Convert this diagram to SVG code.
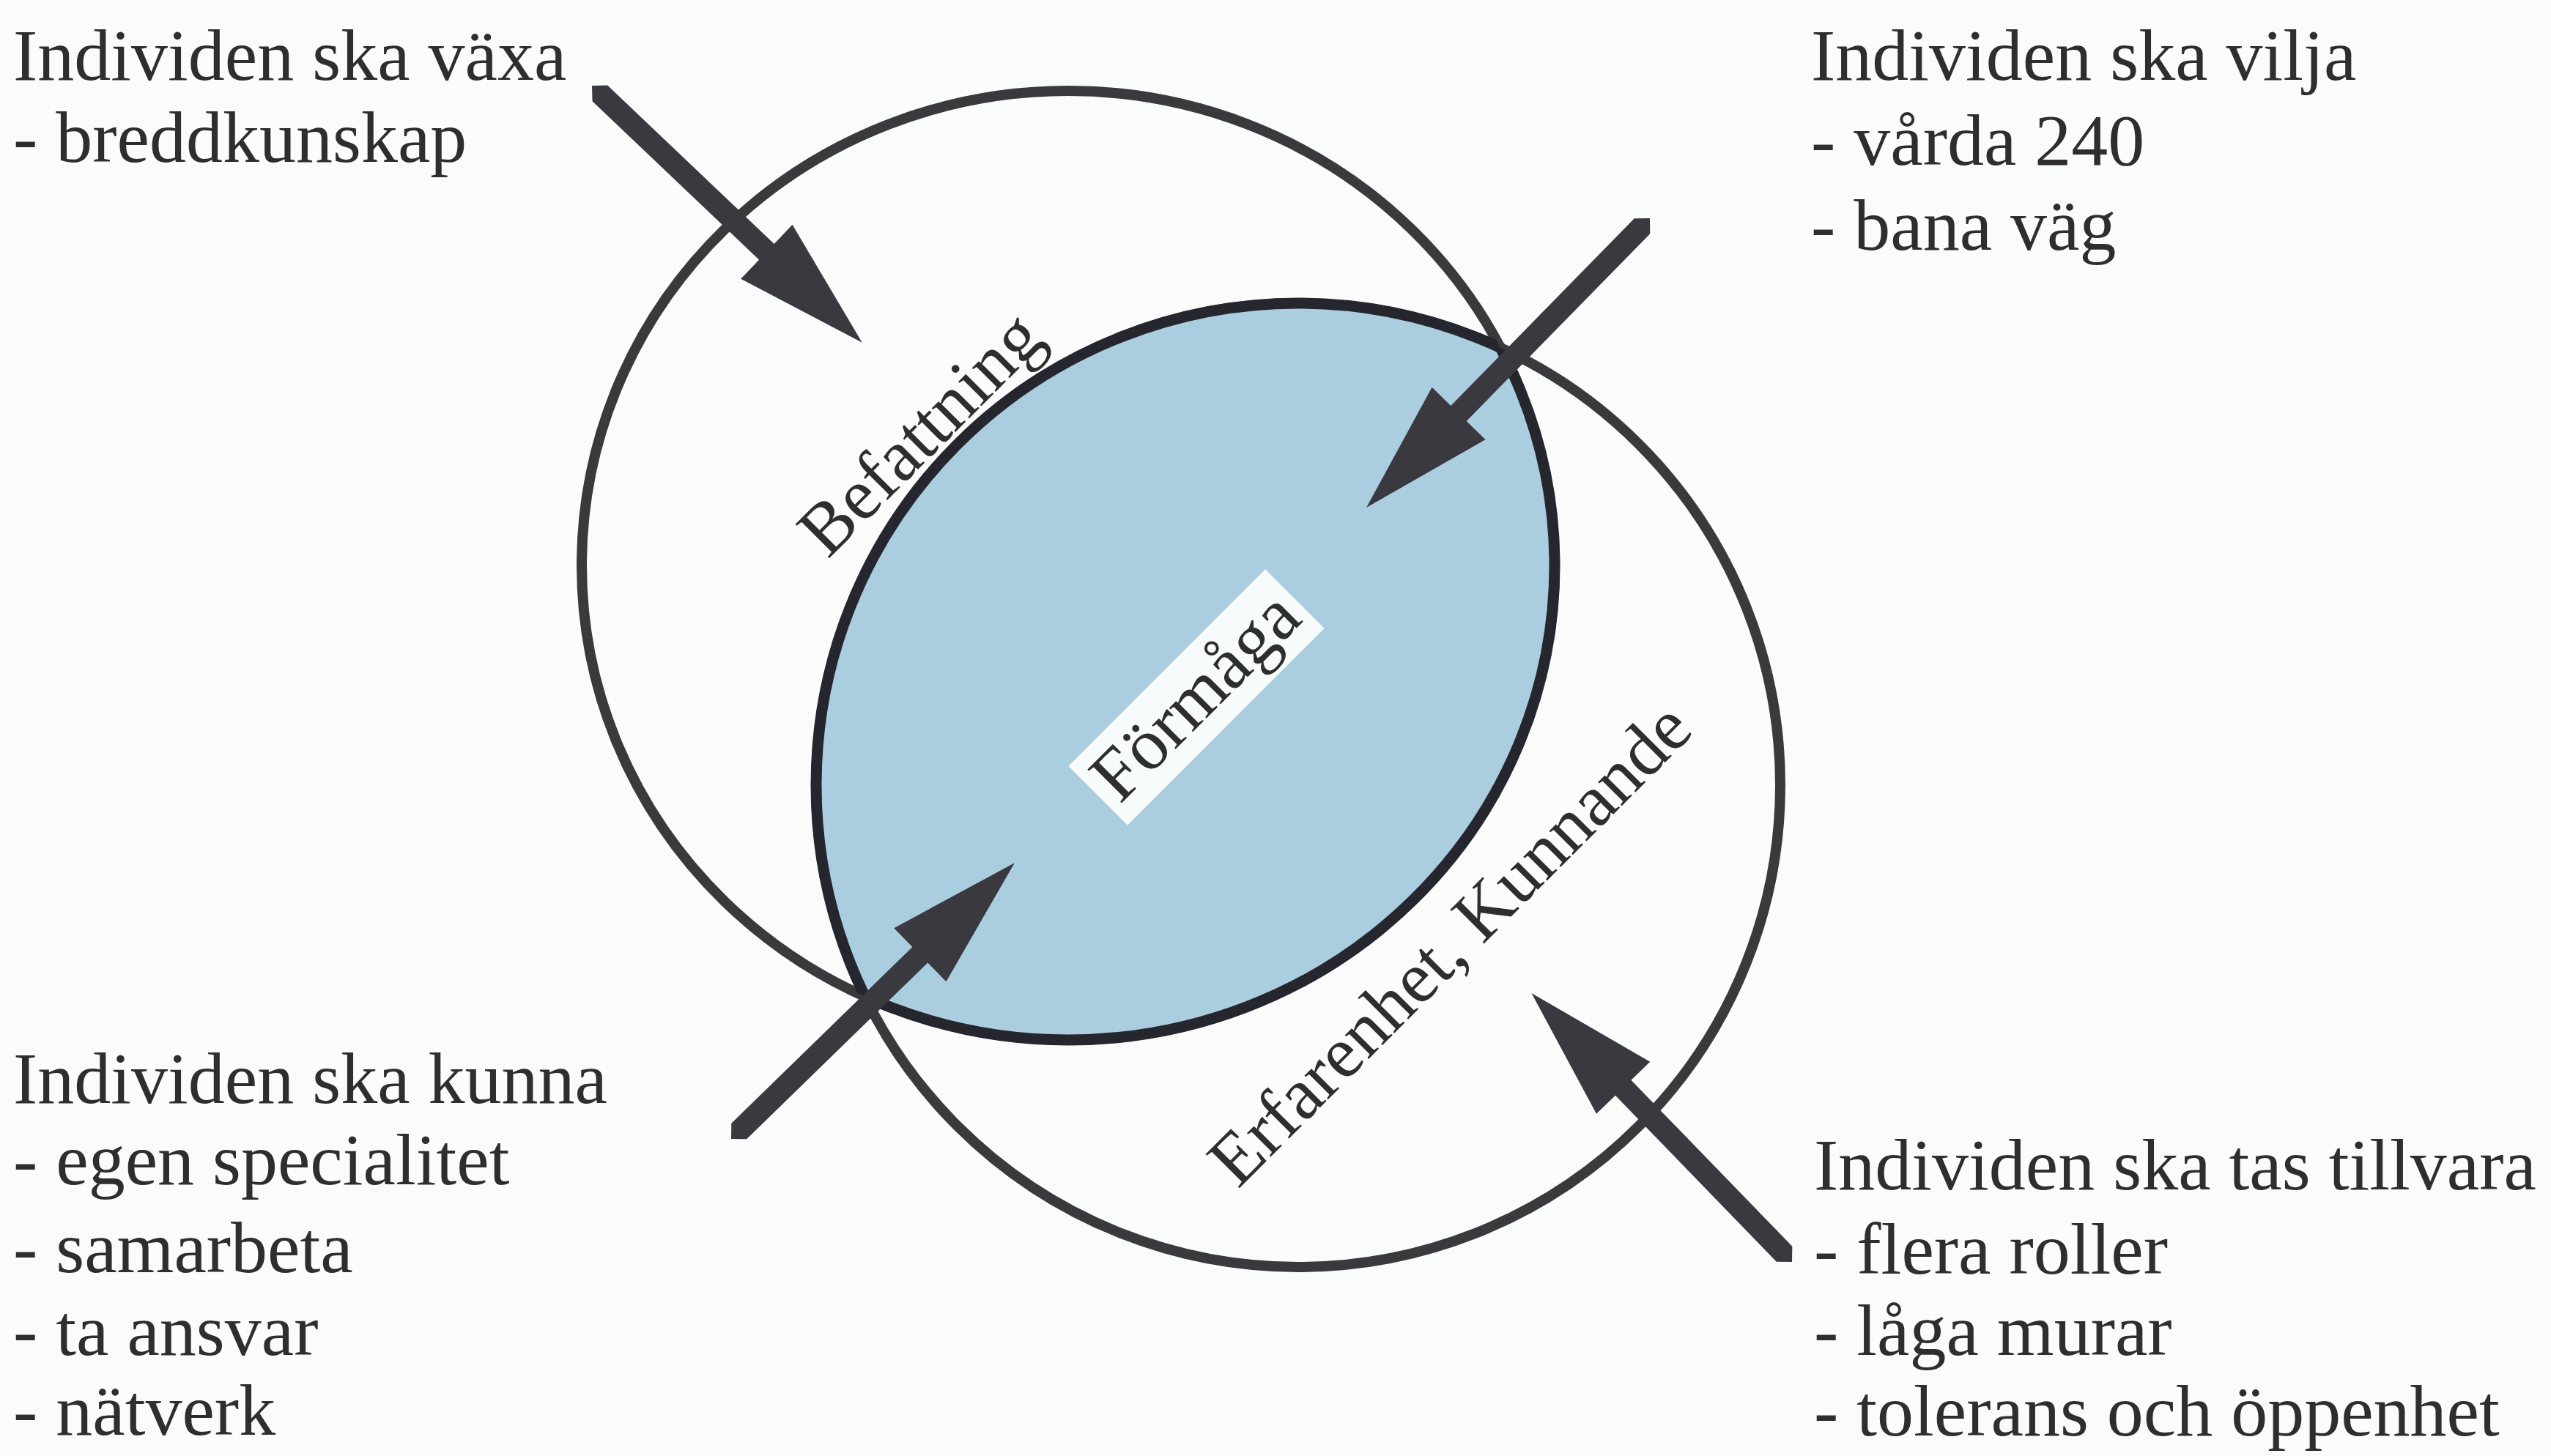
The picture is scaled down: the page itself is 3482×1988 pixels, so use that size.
<svg xmlns="http://www.w3.org/2000/svg" width="3482" height="1988" viewBox="0 0 3482 1988">
  <style>
    .txt { font-family: "Liberation Serif", "Times New Roman", serif; font-size: 100px; fill: #2e2e2e; }
    .ring { fill: none; stroke: #3a3a3c; stroke-width: 14; }
    .lens-edge { fill: none; stroke: #26262e; stroke-width: 15; }
    .arrow { fill: #3b3940; }
  </style>
  <defs>
    <clipPath id="clip-c1"><ellipse cx="1458" cy="772" rx="664" ry="648"/></clipPath>
    <clipPath id="clip-c2"><circle cx="1772" cy="1072" r="658"/></clipPath>
  </defs>
  <rect x="0" y="0" width="3482" height="1988" fill="#fafcfc"/>

  <g id="circle-befattning">
    <ellipse class="ring" cx="1458" cy="772" rx="664" ry="648"/>
  </g>
  <g id="circle-erfarenhet">
    <circle class="ring" cx="1772" cy="1072" r="658"/>
  </g>
  <g id="formaga">
    <circle cx="1772" cy="1072" r="658" fill="#aacde0" clip-path="url(#clip-c1)"/>
    <circle class="lens-edge" cx="1772" cy="1072" r="658" clip-path="url(#clip-c1)"/>
    <ellipse class="lens-edge" cx="1458" cy="772" rx="664" ry="648" clip-path="url(#clip-c2)"/>
    <g transform="translate(1633,952) rotate(-45)">
      <rect x="-190" y="-57" width="380" height="114" fill="#f8fbfc"/>
      <text class="txt" x="0" y="30" text-anchor="middle">Förmåga</text>
    </g>
  </g>
  <g id="label-befattning">
    <text class="txt" x="0" y="0" text-anchor="middle" transform="translate(1279,615) rotate(-45)">Befattning</text>
  </g>
  <g id="label-erfarenhet">
    <text class="txt" x="0" y="0" text-anchor="middle" transform="translate(2002,1312) rotate(-45)">Erfarenhet, Kunnande</text>
  </g>

  <g id="node-vaxa">
    <text class="txt" x="18" y="109">Individen ska växa</text>
    <text class="txt" x="18" y="221">- breddkunskap</text>
  </g>
  <g id="node-vilja">
    <text class="txt" x="2472" y="109">Individen ska vilja</text>
    <text class="txt" x="2472" y="225">- vårda 240</text>
    <text class="txt" x="2472" y="341">- bana väg</text>
  </g>
  <g id="node-kunna">
    <text class="txt" x="18" y="1506">Individen ska kunna</text>
    <text class="txt" x="18" y="1617">- egen specialitet</text>
    <text class="txt" x="18" y="1737">- samarbeta</text>
    <text class="txt" x="18" y="1850">- ta ansvar</text>
    <text class="txt" x="18" y="1959">- nätverk</text>
  </g>
  <g id="node-tillvara">
    <text class="txt" x="2476" y="1624">Individen ska tas tillvara</text>
    <text class="txt" x="2476" y="1739">- flera roller</text>
    <text class="txt" x="2476" y="1850">- låga murar</text>
    <text class="txt" x="2476" y="1960">- tolerans och öppenhet</text>
  </g>

  <g id="connectors">
    <polygon class="arrow" transform="translate(808,117) rotate(43.57)" points="0,0 15,-15 329,-15 329,-51 509,0 329,51 329,15 15,15"/>
    <polygon class="arrow" transform="translate(2252,298) rotate(134.4)" points="0,0 15,-15 373,-15 373,-51 553,0 373,51 373,15 15,15"/>
    <polygon class="arrow" transform="translate(998,1555) rotate(-44.25)" points="0,0 15,-15 360,-15 360,-51 540,0 360,51 360,15 15,15"/>
    <polygon class="arrow" transform="translate(2446,1723) rotate(-134.1)" points="0,0 15,-15 331,-15 331,-51 511,0 331,51 331,15 15,15"/>
  </g>
</svg>
